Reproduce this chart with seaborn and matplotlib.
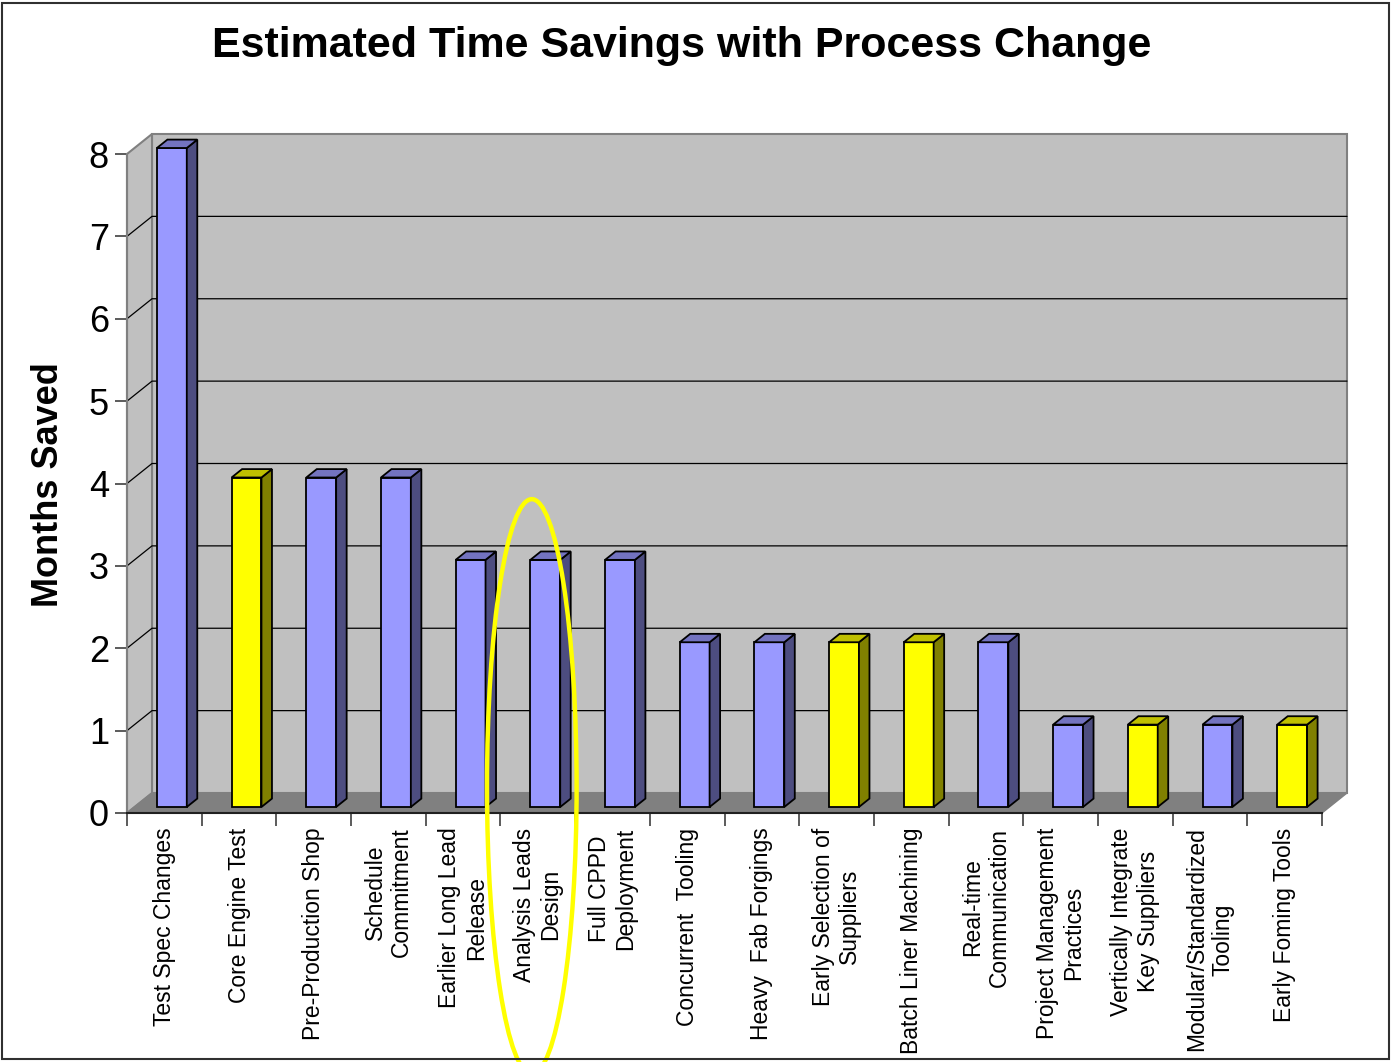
import matplotlib
matplotlib.use("Agg")
import matplotlib.pyplot as plt
import seaborn as sns
import numpy as np
import pandas as pd
from matplotlib.patches import Polygon, Ellipse, Rectangle
from matplotlib.transforms import ScaledTranslation, IdentityTransform

# ---------------- data ----------------
categories = [
    "Test Spec Changes", "Core Engine Test", "Pre-Production Shop",
    "Schedule\nCommitment", "Earlier Long Lead\nRelease", "Analysis Leads\nDesign",
    "Full CPPD\nDeployment", "Concurrent  Tooling", "Heavy  Fab Forgings",
    "Early Selection of\nSuppliers", "Batch Liner Machining", "Real-time\nCommunication",
    "Project Management\nPractices", "Vertically Integrate\nKey Suppliers",
    "Modular/Standardized\nTooling", "Early Foming Tools",
]
months_saved = [8, 4, 4, 4, 3, 3, 3, 2, 2, 2, 2, 2, 1, 1, 1, 1]
highlighted = [False, True, False, False, False, False, False, False, False,
               True, True, False, False, True, False, True]
y_ticks = [0, 1, 2, 3, 4, 5, 6, 7, 8]
title = "Estimated Time Savings with Process Change"
y_label = "Months Saved"
circled_category = "Analysis Leads\nDesign"

# ---------------- style ----------------
sns.set_style("white")
plt.rcParams["font.family"] = ["Liberation Sans", "DejaVu Sans"]
plt.rcParams["text.color"] = "black"
plt.rcParams["axes.labelcolor"] = "black"
plt.rcParams["xtick.color"] = "black"
plt.rcParams["ytick.color"] = "black"

FRONT = {False: "#9999FF", True: "#FFFF00"}
SIDE = {False: "#4D4D80", True: "#808000"}
TOP = {False: "#7373C0", True: "#C0C000"}
WALL = "#C0C0C0"
FLOOR = "#808080"
EDGE = "#808080"

W, H, DPI = 1391, 1062, 100
fig = plt.figure(figsize=(W / DPI, H / DPI), dpi=DPI)
fig.patch.set_facecolor("white")

# front plane of the 3D box (pixels): x 127..1322, y 813 (0) .. 154 (8)
ax = fig.add_axes([127 / W, (H - 813) / H, (1322 - 127) / W, (813 - 154) / H])
ax.set_facecolor("none")

DXPX, DYPX = 25.0, 20.0  # depth offset of back wall in pixels

df = pd.DataFrame({"category": categories, "months": months_saved,
                   "hl": highlighted})
palette = {c: FRONT[h] for c, h in zip(categories, highlighted)}
sns.barplot(data=df, x="category", y="months", hue="category", palette=palette,
            order=categories, hue_order=categories, width=0.40, legend=False,
            saturation=1, edgecolor="black", linewidth=1.3, ax=ax, zorder=3)

ax.set_xlim(-0.5, len(categories) - 0.5)
ax.set_ylim(0, 8)


def pt3(x, y, d):
    p = ax.transData.transform((x, y))
    return (p[0] + d * DXPX, p[1] + d * DYPX)


ident = IdentityTransform()
x0, x1 = -0.5, len(categories) - 0.5
ymax = 8

# back wall
ax.add_patch(Polygon([pt3(x0, 0, 1), pt3(x1, 0, 1), pt3(x1, ymax, 1), pt3(x0, ymax, 1)],
                     closed=True, transform=ident, facecolor=WALL, edgecolor=EDGE,
                     lw=1.5, zorder=0.1, clip_on=False))
# left wall
ax.add_patch(Polygon([pt3(x0, 0, 0), pt3(x0, ymax, 0), pt3(x0, ymax, 1), pt3(x0, 0, 1)],
                     closed=True, transform=ident, facecolor=WALL, edgecolor=EDGE,
                     lw=1.5, zorder=0.2, clip_on=False))
# floor
ax.add_patch(Polygon([pt3(x0, 0, 0), pt3(x1, 0, 0), pt3(x1, 0, 1), pt3(x0, 0, 1)],
                     closed=True, transform=ident, facecolor=FLOOR, edgecolor=EDGE,
                     lw=1.0, zorder=0.3, clip_on=False))
# gridlines
for k in y_ticks[1:-1]:
    a, b, c = pt3(x0, k, 0), pt3(x0, k, 1), pt3(x1, k, 1)
    ax.plot([a[0], b[0], c[0]], [a[1], b[1], c[1]], transform=ident, color="black",
            lw=0.9, zorder=0.4, clip_on=False)

# 3D bars: move front faces back and add side + top faces
D0, D1 = 0.30, 0.72
bars = [p for p in ax.patches if isinstance(p, Rectangle) and p.get_width() < 1]
for bar, h in zip(bars, highlighted):
    bar.set_transform(ax.transData + ScaledTranslation(D0 * DXPX / DPI, D0 * DYPX / DPI,
                                                        fig.dpi_scale_trans))
    bar.set_clip_on(False)
    bx, bw, bh = bar.get_x(), bar.get_width(), bar.get_height()
    side = [pt3(bx + bw, 0, D0), pt3(bx + bw, 0, D1), pt3(bx + bw, bh, D1), pt3(bx + bw, bh, D0)]
    top = [pt3(bx, bh, D0), pt3(bx + bw, bh, D0), pt3(bx + bw, bh, D1), pt3(bx, bh, D1)]
    ax.add_patch(Polygon(side, closed=True, transform=ident, facecolor=SIDE[h],
                         edgecolor="black", lw=1.3, zorder=3, clip_on=False))
    ax.add_patch(Polygon(top, closed=True, transform=ident, facecolor=TOP[h],
                         edgecolor="black", lw=1.3, zorder=3, clip_on=False))

# axes, ticks
for s in ["top", "right"]:
    ax.spines[s].set_visible(False)
ax.spines["left"].set_color(EDGE)
ax.spines["left"].set_linewidth(1.5)
ax.spines["bottom"].set_color("#202020")
ax.spines["bottom"].set_linewidth(1.5)
ax.spines["left"].set_zorder(5)
ax.spines["bottom"].set_zorder(5)

ax.set_yticks(y_ticks)
ax.set_yticklabels([str(v) for v in y_ticks], fontsize=26, color="black")
ax.tick_params(axis="y", length=9, width=1.2, color="#404040", pad=4, direction="out",
               left=True)
ax.set_xticks(range(len(categories)))
ax.set_xticklabels(categories, rotation=90, ha="center", va="top",
                   multialignment="center", fontsize=16.5, color="black")
ax.set_xticks(np.arange(-0.5, len(categories)), minor=True)
ax.tick_params(axis="x", which="major", length=0, pad=10.5)
ax.tick_params(axis="x", which="minor", length=9, width=1.2, color="#404040",
               direction="out", bottom=True)
ax.set_xlabel("")
ax.set_ylabel("")
ax.grid(False)

# title and y label
fig.text(681.5 / W, 1 - 46 / H, title, ha="center", va="center", fontsize=31,
         fontweight="bold", color="black")
fig.text(49 / W, 1 - 485 / H, y_label, ha="center", va="center", rotation=90,
         fontsize=26, fontweight="bold", color="black")

# highlight ellipse around one category
ci = categories.index(circled_category)
ax.add_patch(Ellipse((ci - 0.08, 0.32), width=1.2, height=6.98, fill=False,
                     edgecolor="#FFFF00", lw=3.2, zorder=10, clip_on=False))

# outer frame
fig.add_artist(Rectangle((1.5 / W, 3.5 / H), (W - 4) / W, (H - 6) / H,
                         transform=fig.transFigure, fill=False, edgecolor="#303030",
                         lw=1.5))

fig.savefig("out.png", dpi=DPI)
